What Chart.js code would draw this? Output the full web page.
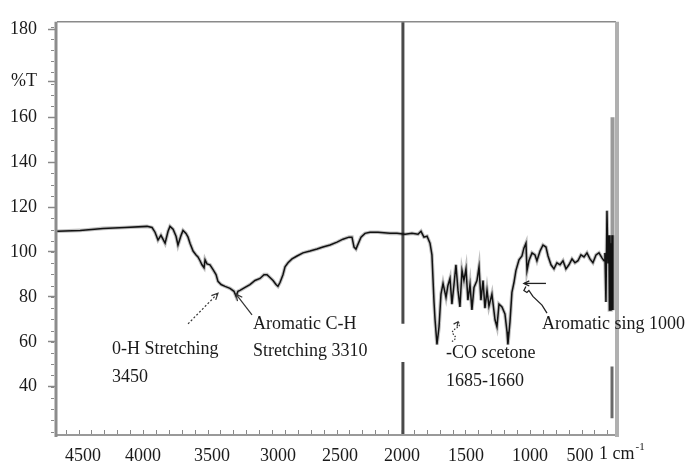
<!DOCTYPE html>
<html>
<head>
<meta charset="utf-8">
<script src="https://cdn.jsdelivr.net/npm/chart.js@4.4.1/dist/chart.umd.min.js"></script>
<style>
  html, body { margin: 0; padding: 0; background: #fff; }
  #wrap { width: 688px; height: 466px; position: relative; }
</style>
</head>
<body>
<div id="wrap"><canvas id="irChart"></canvas></div>
<script>
// IR spectrum: wavenumber (cm-1) and %T
const wavenumbers = [4667,4488,4310,4140,3969,3930,3907,3884,3861,3829,
  3806,3791,3767,3744,3729,3705,3690,3667,3651,3636,
  3612,3589,3574,3558,3543,3527,3519,3504,3481,3457,
  3434,3419,3395,3364,3326,3295,3279,3264,3248,3209,
  3171,3132,3093,3062,3039,3016,2992,2969,2954,2938,
  2915,2899,2876,2845,2806,2760,2705,2651,2605,2550,
  2496,2450,2403,2380,2364,2349,2333,2310,2279,2240,
  2178,2085,2031,1969,1915,1868,1845,1822,1798,1775,
  1760,1744,1736,1721,1705,1690,1674,1651,1636,1620,
  1605,1589,1574,1558,1543,1527,1512,1496,1481,1465,
  1450,1434,1411,1395,1380,1364,1349,1333,1318,1295,
  1271,1256,1240,1217,1194,1178,1171,1155,1140,1124,
  1109,1085,1062,1047,1031,1023,1008,984,961,946,
  922,899,876,860,837,814,791,767,744,721,
  698,674,651,628,605,581,558,535,512,488,
  465,442,426,419,411,403,395,388,384,380,
  376,372,368,364,360,357];
const transmittance = [109.2,109.6,110.5,110.9,111.4,110.9,108.8,105.3,107.4,103.9,
  109.2,111.4,110.1,107.0,103.1,107.4,109.6,108.3,106.6,103.9,
  100.4,98.7,97.8,96.1,94.3,93.0,96.5,94.7,94.3,92.1,
  89.9,86.9,85.5,84.7,83.8,82.5,80.3,82.5,82.9,84.2,
  85.5,87.3,88.2,89.9,89.9,88.6,87.3,85.5,84.7,86.4,
  89.9,93.4,95.2,96.9,98.2,99.6,100.4,101.3,102.2,103.1,
  104.4,105.7,106.6,106.6,102.2,101.3,103.5,106.6,108.3,108.8,
  108.8,108.3,108.3,107.9,108.3,107.9,109.2,106.6,107.0,103.9,
  98.7,77.7,69.8,58.8,66.7,81.2,86.0,79.8,85.1,88.2,
  76.8,85.5,94.3,82.9,75.5,91.7,87.3,92.5,78.5,85.5,
  74.2,84.2,87.3,93.4,78.5,87.3,75.0,82.9,75.9,81.2,
  69.8,66.7,76.8,75.5,72.4,64.5,58.8,68.9,82.0,86.4,
  91.7,96.5,98.2,101.7,103.9,91.7,96.1,99.6,98.7,96.1,
  100.4,103.1,102.2,98.2,94.3,92.5,95.2,94.3,96.1,92.5,
  94.3,96.9,95.2,96.1,98.7,97.8,99.6,96.9,95.2,98.7,
  99.6,97.4,96.1,99.6,77.7,118.4,95.2,107.4,74.2,107.4,
  74.2,103.9,74.2,107.4,74.2,100.0];

// the scan's tick labels are not evenly spaced, so they sit where they are printed
const xTickValues = [4465, 4000, 3465, 2954, 2473, 1992, 1496, 1000, 612];
const xTickLabels = ['4500', '4000', '3500', '3000', '2500', '2000', '1500', '1000', '500'];
const yTickValues = [40, 60, 80, 100, 120, 140, 160, 176, 199];
const yTickLabels = ['40', '60', '80', '100', '120', '140', '160', '%T', '180'];

// divider at 2000 cm-1 (broken near the bottom) and the saturated bars at the far right
const dividerX = [1985, 1985, 1985, 1985, 1985];
const dividerY = [202.5, 68, null, 51, 18.5];
const barX = [360, 360];
const barY = [160, 74];
const lowBarX = [364, 364];
const lowBarY = [49, 26];

const notes = [
  { text: '0-H Stretching', x: 4240, y: 56.6 },
  { text: '3450', x: 4240, y: 44.4 },
  { text: 'Aromatic C-H', x: 3147, y: 67.6 },
  { text: 'Stretching 3310', x: 3147, y: 55.8 },
  { text: '-CO scetone', x: 1651, y: 54.9 },
  { text: '1685-1660', x: 1651, y: 42.6 },
  { text: 'Aromatic sing 1000', x: 907, y: 67.6 }
];

const SERIF = '"Liberation Serif", "DejaVu Serif", serif';

function pts(xs, ys) {
  return xs.map((x, i) => ({ x: x, y: ys[i] }));
}

const spectrum = pts(wavenumbers, transmittance);

function arrowHead(ctx, fx, fy, tx, ty, len) {
  const a = Math.atan2(ty - fy, tx - fx);
  ctx.beginPath();
  ctx.moveTo(tx - len * Math.cos(a - 0.45), ty - len * Math.sin(a - 0.45));
  ctx.lineTo(tx, ty);
  ctx.lineTo(tx - len * Math.cos(a + 0.45), ty - len * Math.sin(a + 0.45));
  ctx.stroke();
}

const decorPlugin = {
  id: 'decor',
  afterDatasetsDraw(chart) {
    const { ctx, chartArea: ca, scales: { x, y } } = chart;
    const px = v => x.getPixelForValue(v);
    const py = v => y.getPixelForValue(v);
    ctx.save();

    // frame
    ctx.strokeStyle = '#8a8a8a';
    ctx.lineWidth = 1.5;
    ctx.beginPath(); ctx.moveTo(ca.left, ca.top); ctx.lineTo(ca.right, ca.top); ctx.stroke();
    ctx.strokeStyle = '#999';
    ctx.lineWidth = 2;
    ctx.beginPath(); ctx.moveTo(ca.left, ca.bottom); ctx.lineTo(ca.right, ca.bottom); ctx.stroke();
    ctx.strokeStyle = '#8c8c8c';
    ctx.lineWidth = 3;
    ctx.beginPath(); ctx.moveTo(ca.left - 1, ca.top); ctx.lineTo(ca.left - 1, ca.bottom + 2); ctx.stroke();
    ctx.strokeStyle = '#b0b0b0';
    ctx.lineWidth = 4;
    ctx.beginPath(); ctx.moveTo(ca.right + 1, ca.top); ctx.lineTo(ca.right + 1, ca.bottom + 2); ctx.stroke();

    // minor ticks
    ctx.strokeStyle = '#888';
    ctx.lineWidth = 1;
    for (let v = 400; v <= 4600; v += 100) {
      const p = Math.round(px(v)) + 0.5;
      ctx.beginPath(); ctx.moveTo(p, ca.bottom - 1); ctx.lineTo(p, ca.bottom - 5); ctx.stroke();
    }
    for (let v = 20; v <= 200; v += 5) {
      const p = Math.round(py(v)) + 0.5;
      ctx.beginPath(); ctx.moveTo(ca.left - 3, p); ctx.lineTo(ca.left - 6, p); ctx.stroke();
    }

    // notes
    ctx.fillStyle = '#1a1a1a';
    ctx.font = '18px ' + SERIF;
    ctx.textAlign = 'left';
    ctx.textBaseline = 'middle';
    notes.forEach(n => ctx.fillText(n.text, px(n.x), py(n.y)));

    // arrows
    ctx.strokeStyle = '#333';
    ctx.lineWidth = 1.2;
    ctx.setLineDash([2, 2]);
    ctx.beginPath(); ctx.moveTo(px(3651), py(68.0)); ctx.lineTo(px(3419), py(81.6)); ctx.stroke();
    ctx.setLineDash([]);
    arrowHead(ctx, px(3651), py(68.0), px(3419), py(81.6), 7);

    ctx.beginPath(); ctx.moveTo(px(3155), py(72.0)); ctx.lineTo(px(3279), py(81.2)); ctx.stroke();
    arrowHead(ctx, px(3155), py(72.0), px(3279), py(81.2), 7);

    // wavy dotted arrow for the carbonyl
    const fx = px(1605), fy = py(60.1), tx = px(1558), ty = py(68.9);
    ctx.setLineDash([1.5, 1.5]);
    ctx.beginPath();
    for (let i = 0; i <= 20; i++) {
      const t = i / 20;
      const ox = Math.sin(t * Math.PI * 3) * 2.5;
      const xx = fx + (tx - fx) * t + ox;
      const yy = fy + (ty - fy) * t;
      if (i === 0) ctx.moveTo(xx, yy); else ctx.lineTo(xx, yy);
    }
    ctx.stroke();
    ctx.setLineDash([]);
    arrowHead(ctx, tx - 3, ty + 4, tx, ty, 5);

    // aromatic ring arrow: left-pointing head, short bar, wavy tail down to the text
    const ax = px(1047), ay = py(86.0);
    ctx.strokeStyle = '#222';
    ctx.lineWidth = 1.3;
    ctx.beginPath(); ctx.moveTo(px(876), ay); ctx.lineTo(ax, ay); ctx.stroke();
    arrowHead(ctx, px(876), ay, ax, ay, 6);
    const ex = px(868), ey = py(72.8);
    ctx.beginPath();
    ctx.moveTo(ax + 2, ay + 3);
    ctx.lineTo(ax, ay + 7);
    ctx.lineTo(ax + 3, ay + 9);
    ctx.lineTo(ax + 5, ay + 7);
    ctx.lineTo(ax + 9, ay + 13);
    ctx.lineTo(ex - 5, ey - 8);
    ctx.lineTo(ex, ey);
    ctx.stroke();

    // axis unit
    ctx.fillStyle = '#1a1a1a';
    ctx.font = '18px ' + SERIF;
    const ux = px(465), uy = ca.bottom + 19;
    ctx.fillText('1 cm', ux, uy);
    const w = ctx.measureText('1 cm').width;
    ctx.font = '11px ' + SERIF;
    ctx.fillText('-1', ux + w + 1, uy - 7);

    ctx.restore();
  }
};

new Chart(document.getElementById('irChart'), {
  type: 'line',
  data: {
    datasets: [
      { data: spectrum, borderColor: '#111', borderWidth: 1.5 },
      { data: spectrum, borderColor: 'rgba(0,0,0,0.25)', borderWidth: 3.6 },
      { data: pts(barX, barY), borderColor: '#9a9a9a', borderWidth: 4 },
      { data: pts(lowBarX, lowBarY), borderColor: '#6a6a6a', borderWidth: 3 },
      { data: pts(dividerX, dividerY), borderColor: '#4a4a4a', borderWidth: 3 }
    ]
  },
  options: {
    responsive: true,
    maintainAspectRatio: false,
    animation: false,
    layout: { padding: { top: 15, right: 72, left: 0, bottom: 0 } },
    elements: { point: { radius: 0 }, line: { tension: 0 } },
    scales: {
      x: {
        type: 'linear',
        reverse: true,
        min: 333,
        max: 4667,
        afterFit: s => { s.height = 31; },
        afterBuildTicks: s => { s.ticks = xTickValues.map(v => ({ value: v })); },
        grid: { display: false, drawTicks: false },
        border: { display: false },
        ticks: {
          autoSkip: false,
          maxRotation: 0,
          padding: 10,
          color: '#1a1a1a',
          font: { family: SERIF, size: 18 },
          callback: (v, i) => xTickLabels[i]
        }
      },
      y: {
        type: 'linear',
        min: 18.5,
        max: 202.5,
        afterFit: s => { s.width = 57; },
        afterBuildTicks: s => { s.ticks = yTickValues.map(v => ({ value: v })); },
        grid: { drawOnChartArea: false, tickLength: 9, tickColor: '#888', tickWidth: 1.5 },
        border: { display: false },
        ticks: {
          padding: 11,
          color: '#1a1a1a',
          font: { family: SERIF, size: 18 },
          callback: (v, i) => yTickLabels[i]
        }
      }
    },
    plugins: {
      legend: { display: false },
      tooltip: { enabled: false }
    }
  },
  plugins: [decorPlugin]
});
</script>
</body>
</html>
